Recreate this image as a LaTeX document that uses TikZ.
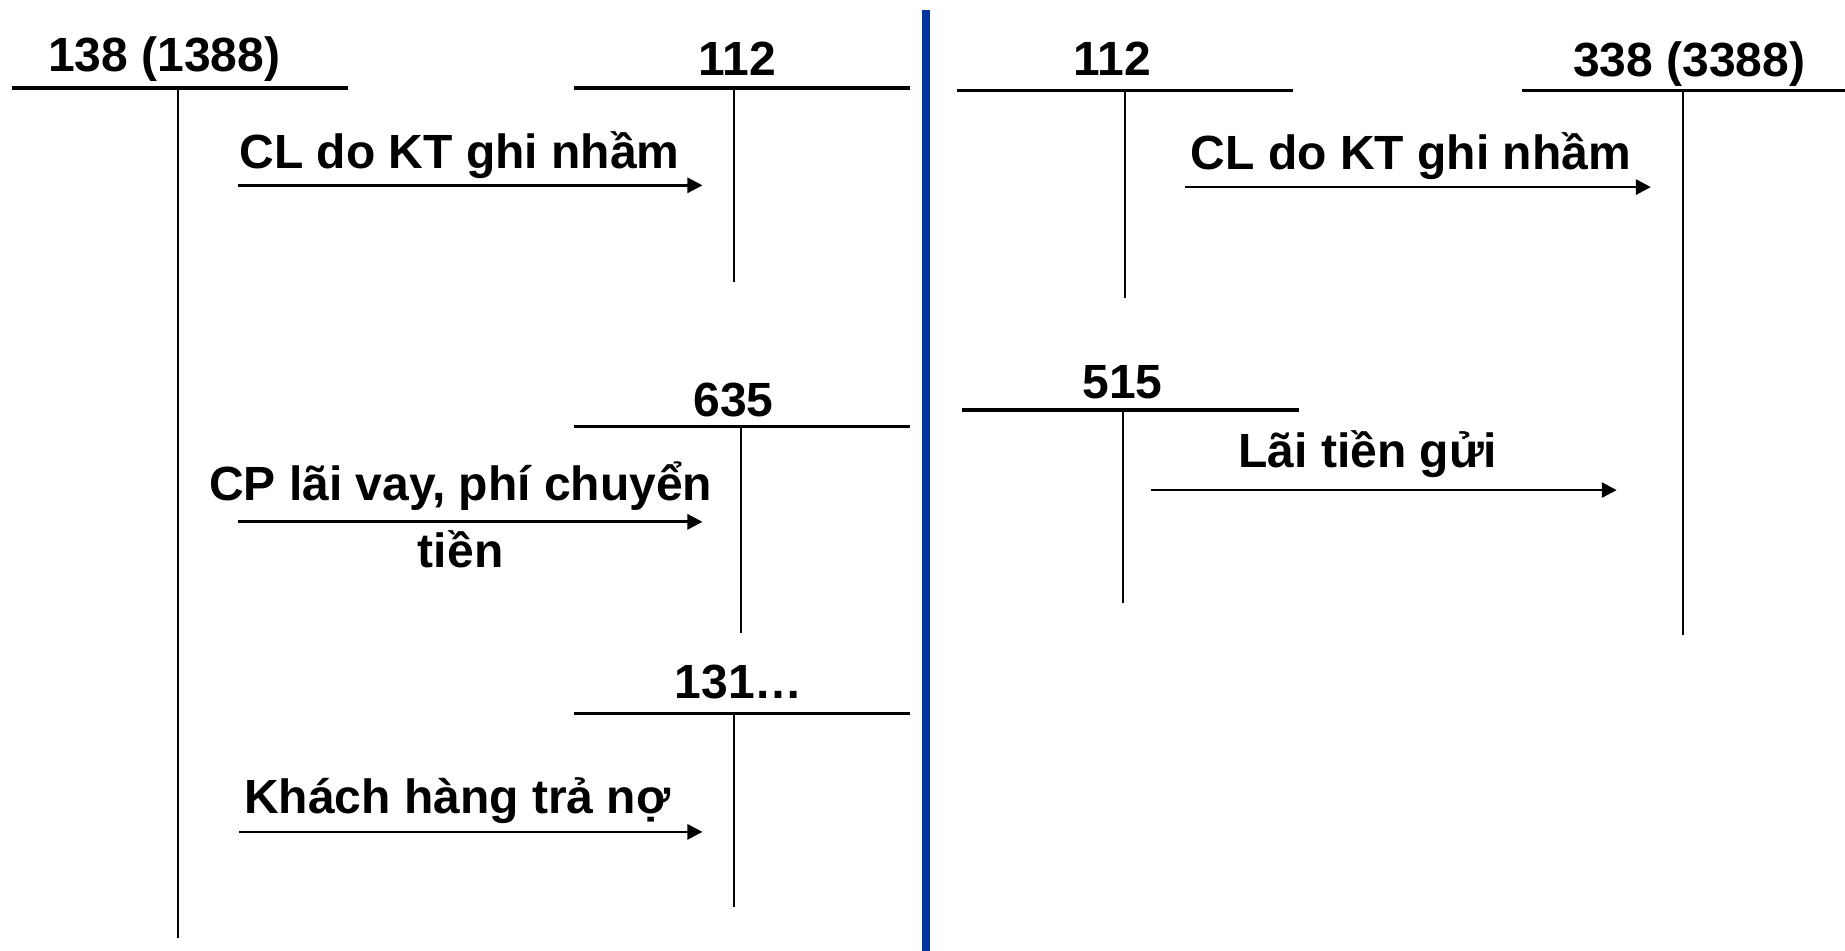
\documentclass[tikz,border=0pt]{standalone}
\usepackage{fontspec}
\setmainfont{Liberation Sans}
\usetikzlibrary{arrows.meta}
\definecolor{divblue}{RGB}{3,52,160}
\tikzset{
  acct/.style={line width=1.8pt},
  leg/.style={line width=1pt},
  flow/.style={line width=1.4pt,-{Triangle[length=7.5pt,width=7.5pt]}},
  lbl/.style={anchor=base,inner sep=0pt,font=\bfseries\fontsize{24}{33.5}\selectfont,align=center},
}
\begin{document}
\begin{tikzpicture}[x=0.58835pt,y=-0.58835pt]
\useasboundingbox (0,0) rectangle (1568,808);
% divider between the two halves
\draw[divblue,line width=3.8pt] (787,8.5) -- (787,808);

% ---- left half: account 138 (1388)
\coordinate (a138L) at (10,75);   \coordinate (a138R) at (296,75);
\coordinate (a138T) at (151.5,75); \coordinate (a138B) at (151.5,797);
\draw[acct] (a138L) -- (a138R);
\draw[leg] (a138T) -- (a138B);
\node[lbl] (t138) at (139.5,61) {138 (1388)};

% account 112
\coordinate (b112L) at (488,75);  \coordinate (b112R) at (773,75);
\coordinate (b112T) at (624,75);  \coordinate (b112B) at (624,239.5);
\draw[acct] (b112L) -- (b112R);
\draw[leg] (b112T) -- (b112B);
\node[lbl] (t112a) at (626.5,64.5) {112};
\coordinate (f1s) at (202,157.5); \coordinate (f1e) at (597,157.5);
\draw[flow] (f1s) -- (f1e);
\node[lbl] (l1) at (390.5,143) {CL do KT ghi nhầm};

% account 635
\coordinate (c635L) at (488,362.5); \coordinate (c635R) at (773,362.5);
\coordinate (c635T) at (630,362.5); \coordinate (c635B) at (630,538);
\draw[acct] (c635L) -- (c635R);
\draw[leg] (c635T) -- (c635B);
\node[lbl] (t635) at (623.5,354) {635};
\coordinate (f2s) at (202,443.5); \coordinate (f2e) at (597,443.5);
\draw[flow] (f2s) -- (f2e);
% two-line label: the base anchor sits on the last line
\node[lbl] (l2) at (391.5,482) {CP lãi vay, phí chuyển\\tiền};

% account 131
\coordinate (d131L) at (488,606.5); \coordinate (d131R) at (773,606.5);
\coordinate (d131T) at (624,606.5); \coordinate (d131B) at (624,771);
\draw[acct] (d131L) -- (d131R);
\draw[leg] (d131T) -- (d131B);
\node[lbl] (t131) at (628,594) {131…};
\coordinate (f3s) at (203,707); \coordinate (f3e) at (597,707);
\draw[flow] (f3s) -- (f3e);
\node[lbl] (l3) at (388.7,691) {Khách hàng trả nợ};

% ---- right half: account 112
\coordinate (e112L) at (813.5,77); \coordinate (e112R) at (1099,77);
\coordinate (e112T) at (956,77);   \coordinate (e112B) at (956,253);
\draw[acct] (e112L) -- (e112R);
\draw[leg] (e112T) -- (e112B);
\node[lbl] (t112b) at (945.5,64) {112};

% account 338 (3388)
\coordinate (g338L) at (1293.5,77); \coordinate (g338R) at (1568,77);
\coordinate (g338T) at (1430,77);   \coordinate (g338B) at (1430,540);
\draw[acct] (g338L) -- (g338R);
\draw[leg] (g338T) -- (g338B);
\node[lbl] (t338) at (1435.5,65) {338 (3388)};
\coordinate (f4s) at (1007,159); \coordinate (f4e) at (1403,159);
\draw[flow] (f4s) -- (f4e);
\node[lbl] (l4) at (1199,144) {CL do KT ghi nhầm};

% account 515
\coordinate (h515L) at (817.5,348.5); \coordinate (h515R) at (1104,348.5);
\coordinate (h515T) at (954,348.5);   \coordinate (h515B) at (954,512.5);
\draw[acct] (h515L) -- (h515R);
\draw[leg] (h515T) -- (h515B);
\node[lbl] (t515) at (954,339) {515};
\coordinate (f5s) at (978,416.5); \coordinate (f5e) at (1374,416.5);
\draw[flow] (f5s) -- (f5e);
\node[lbl] (l5) at (1162.5,397) {Lãi tiền gửi};
\end{tikzpicture}
\end{document}
